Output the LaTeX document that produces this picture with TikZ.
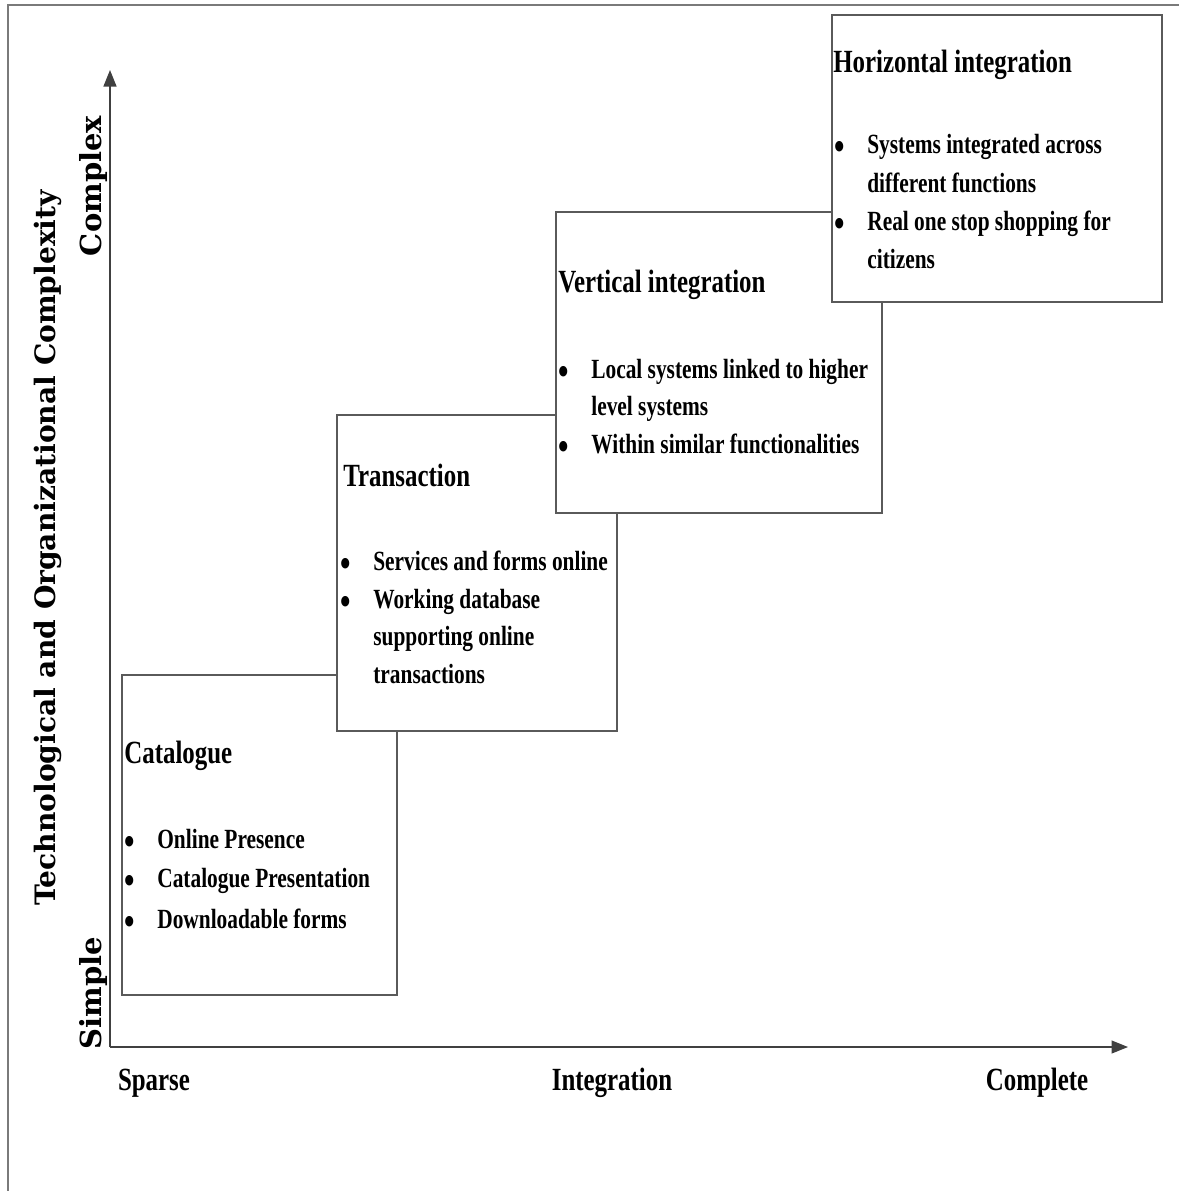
\documentclass[tikz,border=0pt]{standalone}
\usepackage{fontspec}
\setmainfont{Liberation Serif}
\newfontfamily\narrowserif[FakeStretch=0.77]{Liberation Serif}
\newfontfamily\wideserif{DejaVu Serif}
\usepackage{xcolor}
\usepackage{tikz}
\usetikzlibrary{arrows.meta}
\definecolor{egInk}{HTML}{000000}
\definecolor{egLine}{HTML}{5A5A5A}
\definecolor{egAxis}{HTML}{404040}
\definecolor{egFrame}{HTML}{7A7A7A}
\tikzset{
  eg diagram/.style={x=0.02cm, y=-0.02cm, text=egInk,
    line cap=butt, line join=miter},
  eg frame/.style={draw=egFrame, line width=0.7pt},
  eg box/.style={draw=egLine, fill=white, line width=0.6pt},
  eg axis/.style={-{Triangle[length=3.3mm,width=2.6mm]}, draw=egAxis,
    fill=egAxis, line width=0.7pt},
  eg title/.style={anchor=base west, inner sep=0pt,
    font=\narrowserif\bfseries\fontsize{18.4}{20}\selectfont},
  eg item/.style={anchor=base west, inner sep=0pt,
    font=\narrowserif\bfseries\fontsize{15.8}{18}\selectfont},
  eg bullet/.style={anchor=base, inner sep=0pt,
    font=\narrowserif\bfseries\fontsize{22}{22}\selectfont},
  eg label/.style={eg title, anchor=base},
  eg side/.style={inner sep=0pt, rotate=90,
    font=\wideserif\bfseries\fontsize{16}{20}\selectfont},
  eg end/.style={eg side, font=\wideserif\bfseries\fontsize{16.5}{18}\selectfont}
}
\begin{document}
\begin{tikzpicture}[eg diagram]
\useasboundingbox (0,0) rectangle (1179,1191);
% outer frame (top and left only)
\draw[eg frame] (8,1191) -- (8,5) -- (1179,5);
% stage boxes, each one drawn over the one before
\draw[eg box] (122,675) rectangle (397,995);
\draw[eg box] (337,415) rectangle (617,731);
\draw[eg box] (556,212) rectangle (882,513);
\draw[eg box] (832,15) rectangle (1162,302);
% axes
\coordinate (origin) at (110,1047);
\coordinate (ytip) at (110,70);
\coordinate (xtip) at (1128,1047);
\draw[eg axis] (origin) -- (ytip);
\draw[eg axis] (origin) -- (xtip);
% titles
\node[eg title] (catalogue) at (124,763) {Catalogue};
\node[eg title] (transaction) at (343,486) {Transaction};
\node[eg title] (vertical) at (558,292) {Vertical integration};
\node[eg title] (horizontal) at (833,72) {Horizontal integration};
% bullet lines: bullet x / baseline / new item? / text
\foreach \bx/\yy/\b/\txt [count=\i] in {
  130/848/1/Online Presence, 130/887/1/Catalogue Presentation,
  130/928/1/Downloadable forms,
  346/570/1/Services and forms online, 346/608/1/Working database,
  346/645/0/supporting online, 346/683/0/transactions,
  564/378/1/Local systems linked to higher, 564/415/0/level systems,
  564/453/1/Within similar functionalities,
  840/153/1/Systems integrated across, 840/192/0/different functions,
  840/230/1/Real one stop shopping for, 840/268/0/citizens}{
  \node[eg item] (line\i) at (\bx+27,\yy) {\txt};
  \ifnum\b=1 \node[eg bullet] (dot\i) at (\bx,\yy+6) {\textbullet}; \fi
}
% axis labels
\node[eg label] (sparse) at (154,1090) {Sparse};
\node[eg label] (integration) at (612,1090) {Integration};
\node[eg label] (complete) at (1037,1090) {Complete};
\node[eg side] (complexity) at (48,548) {Technological and Organizational Complexity};
\node[eg end] (complex) at (94,186) {Complex};
\node[eg end] (simple) at (94,993) {Simple};
\end{tikzpicture}
\end{document}
